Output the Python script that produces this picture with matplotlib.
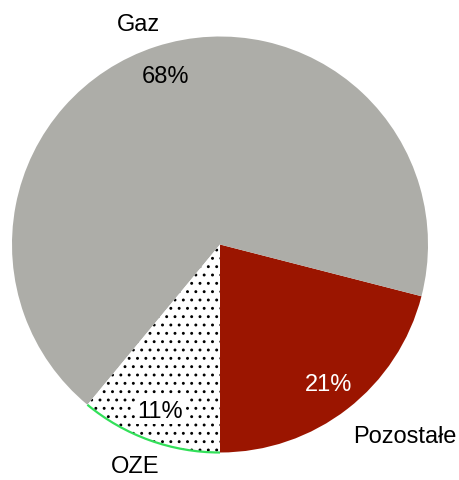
import matplotlib
matplotlib.use("Agg")
import matplotlib.pyplot as plt
from matplotlib.patches import Arc
import numpy as np

labels = ["Pozostałe", "Gaz", "OZE"]
values = [21, 68, 11]
pct_labels = ["21%", "68%", "11%"]

colors = ["#9B1500", "#ADADA8", "white"]
pct_colors = ["white", "black", "black"]
# label placement: (angle in degrees, distance as fraction of radius)
label_pos = [(-46, 1.28), (110.4, 1.13), (-111, 1.14)]

plt.rcParams['font.family'] = ['Liberation Sans', 'DejaVu Sans']
plt.rcParams['hatch.linewidth'] = 0.9

W, H = 459, 481
fig = plt.figure(figsize=(W / 100, H / 100), dpi=100)
ax = fig.add_axes([0, 0, 1, 1])

cx, cy, R = 220, 235.5, 208
wedges, _ = ax.pie(values, colors=colors, startangle=-90, counterclock=True,
                   center=(cx, cy), radius=R, frame=True,
                   wedgeprops=dict(linewidth=0))
ax.set_xlim(0, W)
ax.set_ylim(0, H)
ax.set_aspect('equal')
ax.axis('off')

oze = wedges[2]
oze.set_hatch('..')
oze.set_edgecolor('black')
oze.set_linewidth(0)
ax.add_patch(Arc((cx, cy), 2 * R, 2 * R, theta1=oze.theta1, theta2=oze.theta2,
                 color='#33E05A', lw=1.6, zorder=5))

fs = 17
for w, lab, pct, pc, (ang, d) in zip(wedges, labels, pct_labels, pct_colors, label_pos):
    mid = np.deg2rad((w.theta1 + w.theta2) / 2)
    kw = {}
    if w is oze:
        kw['bbox'] = dict(facecolor='white', edgecolor='none', pad=1.5)
    ax.text(cx + 0.85 * R * np.cos(mid), cy + 0.85 * R * np.sin(mid), pct,
            ha='center', va='center', fontsize=fs, color=pc, zorder=6, **kw)
    a = np.deg2rad(ang)
    ax.text(cx + d * R * np.cos(a), cy + d * R * np.sin(a), lab,
            ha='center', va='center', fontsize=fs, color='black', zorder=6)

fig.savefig("out.png", dpi=100)
